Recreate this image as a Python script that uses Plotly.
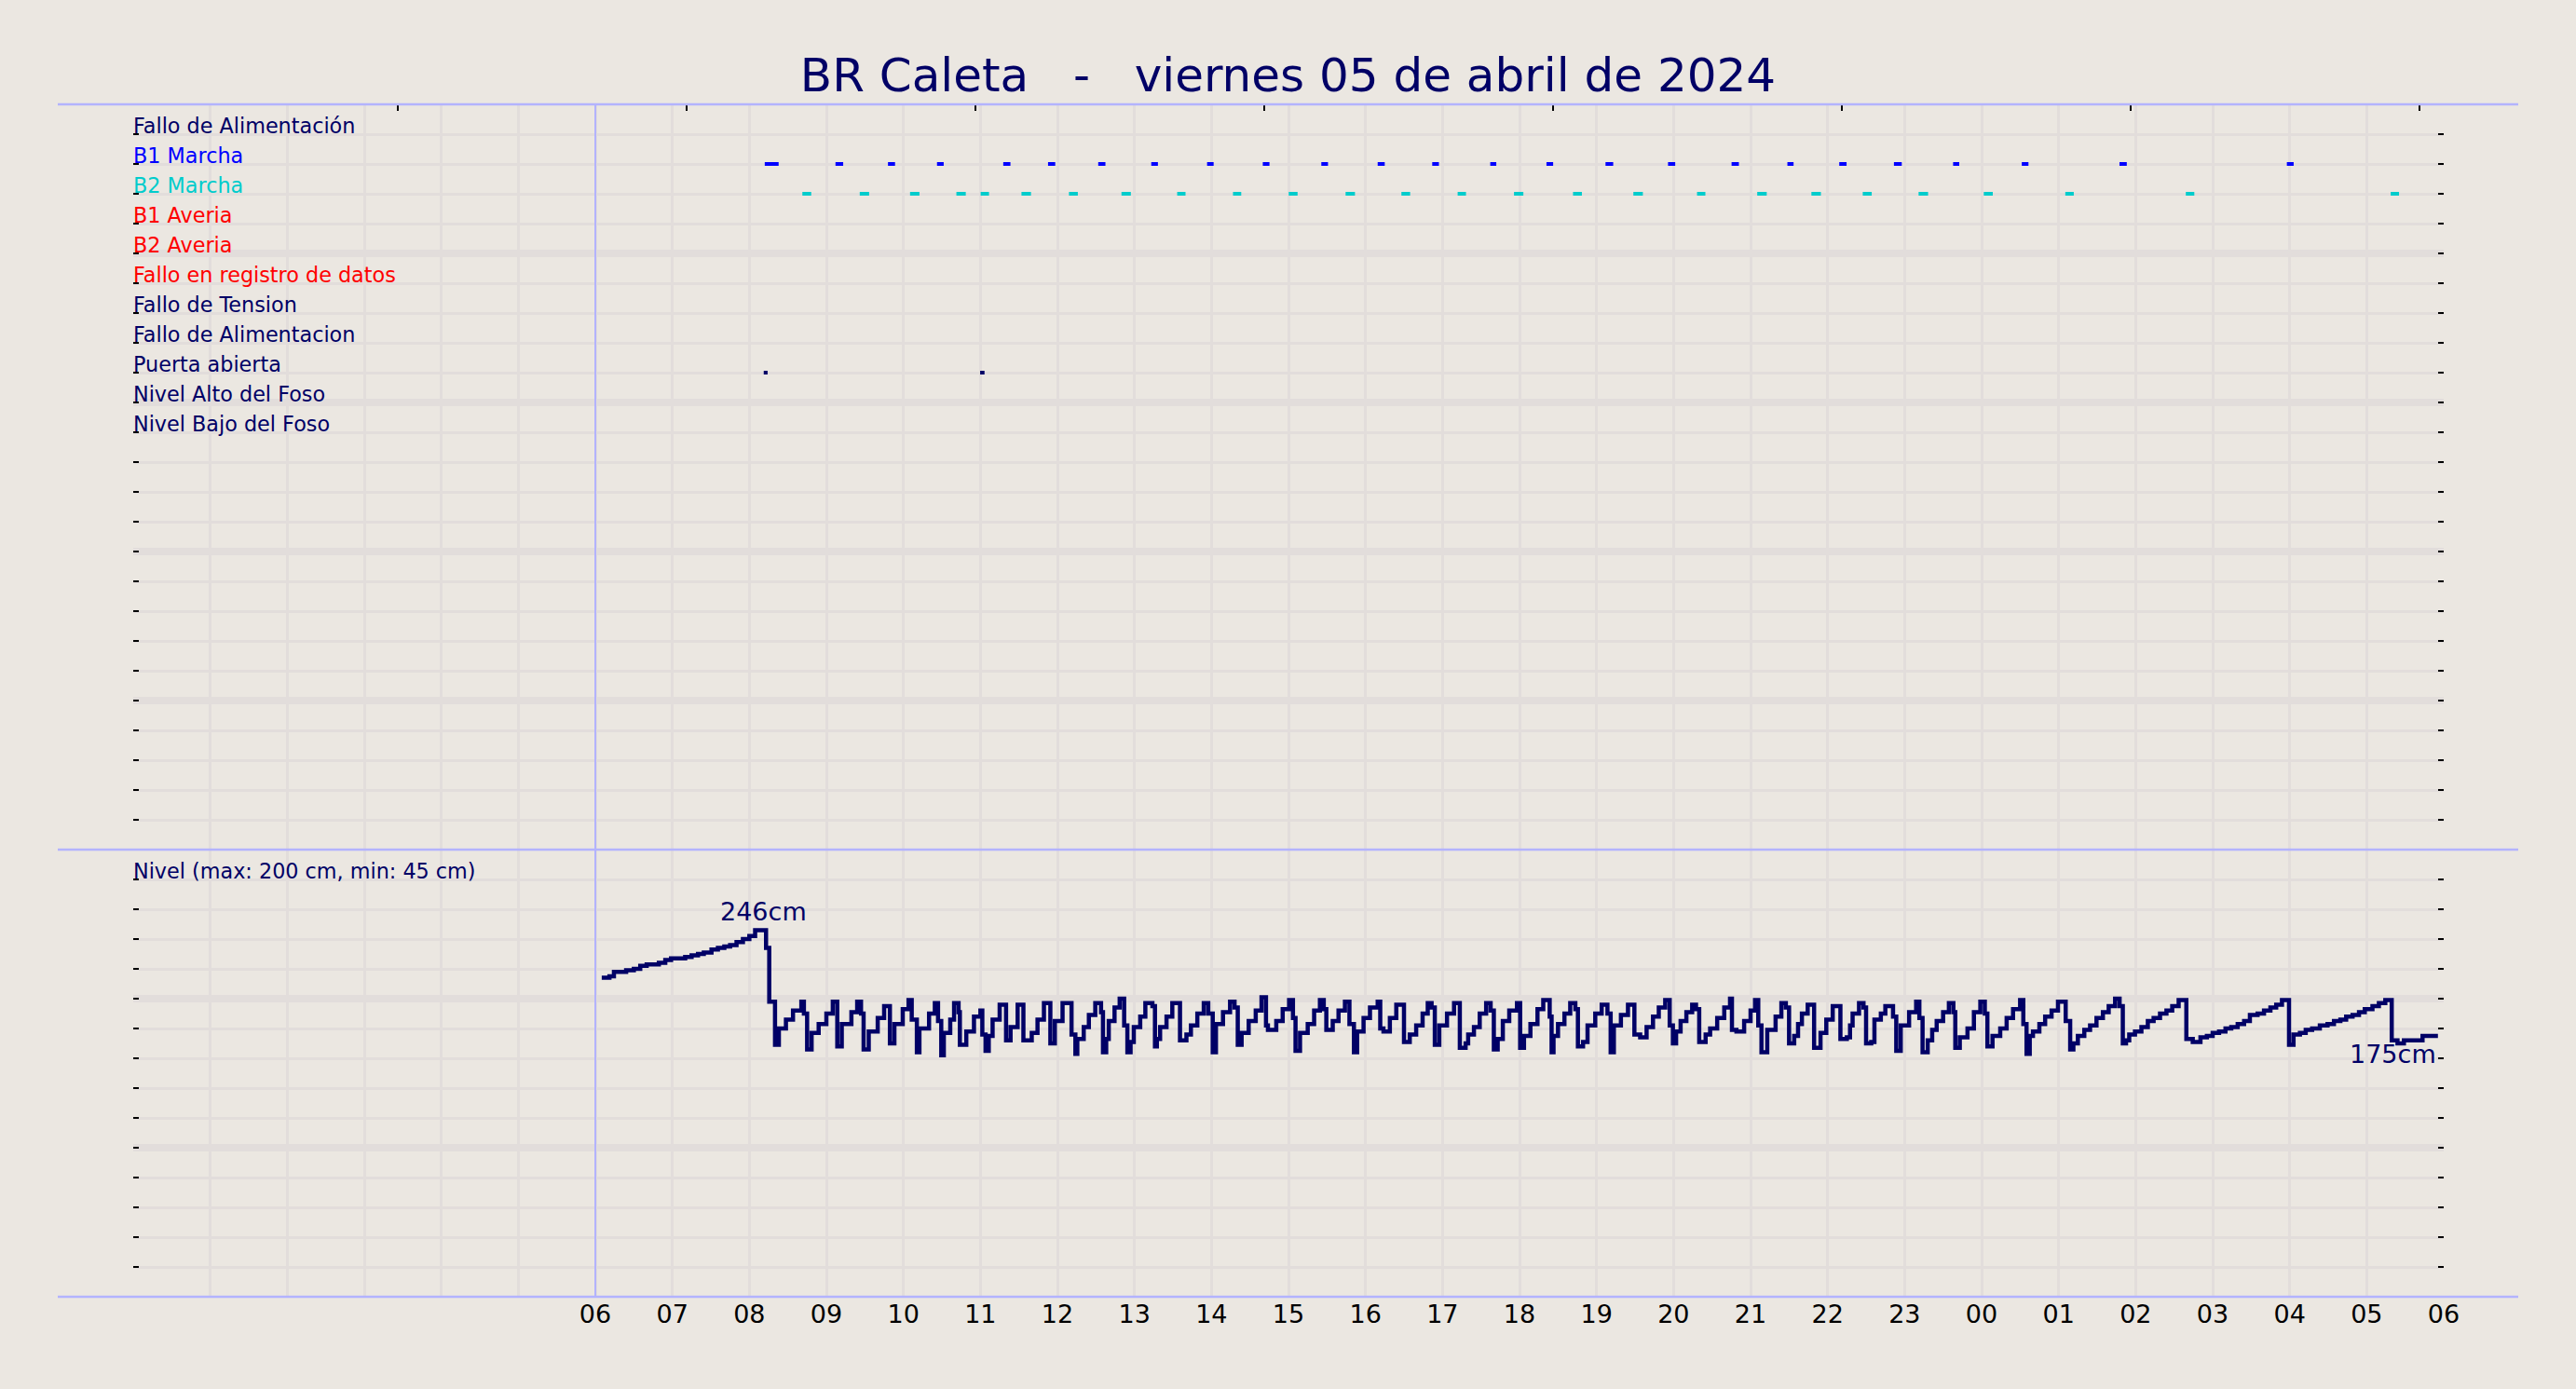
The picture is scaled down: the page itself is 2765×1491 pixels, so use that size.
import pandas as pd
import plotly.graph_objects as go

# ---------------- data ----------------
TITLE = "BR Caleta\u00a0\u00a0\u00a0-\u00a0\u00a0\u00a0viernes 05 de abril de 2024"
DAY_START = "2024-04-05 00:00"
DATA_START = pd.Timestamp("2024-04-05 06:00")
DAY_END = "2024-04-06 06:00"

hour_labels = ["06", "07", "08", "09", "10", "11", "12", "13", "14", "15", "16", "17",
               "18", "19", "20", "21", "22", "23", "00", "01", "02", "03", "04", "05", "06"]

row_labels = ["Fallo de Alimentación", "B1 Marcha", "B2 Marcha", "B1 Averia", "B2 Averia",
              "Fallo en registro de datos", "Fallo de Tension", "Fallo de Alimentacion",
              "Puerta abierta", "Nivel Alto del Foso", "Nivel Bajo del Foso"]
row_colors = ["#000066", "#0000ff", "#00cccc", "#ff0000", "#ff0000", "#ff0000",
              "#000066", "#000066", "#000066", "#000066", "#000066"]

level_note = "Nivel (max: 200 cm, min: 45 cm)"

# level: minutes after 06:00 where the reading changes, and the value (cm)
level_min = [
    5, 11, 14.5, 24, 30, 35, 40, 49.5, 54.5, 59, 70, 75, 80, 84.5, 90.5, 95.5, 100.5, 105, 110, 115, 120,
    124.5, 133, 135.5, 140, 143, 148.5, 154, 160.5, 162.5, 165, 168.5, 174, 180, 185, 188.5, 192, 199.5,
    204, 207, 209, 213, 220, 225, 229.5, 233, 239.5, 244, 246.5, 250.5, 252.5, 260, 264.5, 267, 269.5,
    271.5, 276.5, 279.5, 283, 284, 289, 295, 300, 301.5, 304, 306.5, 309.5, 315, 320, 323.5, 329, 333.5,
    340, 344.5, 349.5, 354.5, 358, 364,
    371, 374, 375.5, 380.5, 384.5, 389.5, 394, 395.5, 398, 400, 404.5, 408.5, 412, 414.5, 417, 419.5,
    424.5, 428.5, 434, 436, 437.5, 440, 445, 449.5, 455.5, 460.5, 464, 469, 474, 477.5, 481, 483.5, 489,
    494.5, 498, 500.5, 503.5, 509, 514.5, 519, 522.5, 524, 530.5, 535.5, 540.5, 543.5, 545.5, 549, 555,
    560, 564.5, 567.5, 569.5, 574.5, 579, 584, 587.5, 591, 593.5, 598.5, 603.5, 609.5, 611.5, 614, 619,
    624, 630, 634.5, 639.5, 644.5, 648.5, 651.5, 654, 657.5, 663.5, 669, 673.5, 678, 680, 684.5, 689,
    694, 697.5, 700, 703, 707, 712, 718, 720.5, 723.5, 728.5, 734, 738.5,
    743.5, 745, 746.5, 750, 755, 759.5, 763.5, 765.5, 769.5, 773, 779, 784, 788.5, 791, 793.5, 799,
    804.5, 809.5, 814, 819, 824, 828.5, 833.5, 837, 839.5, 842, 845.5, 850, 854.5, 857.5, 860, 865,
    868.5, 874, 879.5, 884, 885.5, 889, 895, 900, 903.5, 906, 908.5, 913, 919.5, 924, 927.5, 930, 934,
    937, 940, 944.5, 949.5, 954.5, 959, 964, 970, 975, 977.5, 979.5, 984.5, 988, 990, 994, 996.5,
    1001.5, 1005, 1011, 1013.5, 1017, 1023.5, 1029, 1031.5, 1034, 1038, 1041.5, 1045, 1050, 1054.5,
    1058, 1059.5, 1063, 1069, 1074, 1079, 1082.5, 1084.5, 1088.5, 1094.5, 1099.5, 1104.5, 1110,
    1112.5, 1115, 1117.5, 1120, 1125, 1129.5, 1134.5, 1139.5, 1145.5, 1149, 1151.5, 1155, 1160, 1164.5,
    1169.5, 1174.5, 1179, 1184, 1187.5, 1190, 1192.5, 1195, 1199.5, 1204.5, 1209.5, 1214, 1219, 1224,
    1228.5, 1233.5, 1239.5, 1244.5, 1250.5, 1255.5, 1260, 1265, 1270, 1274.5, 1279.5, 1284.5, 1289,
    1295, 1300, 1305, 1309.5, 1314, 1319.5, 1323, 1328, 1332.5, 1337.5, 1343.5, 1349.5, 1354.5, 1359.5,
    1364, 1369, 1374, 1378.5, 1384.5, 1389.5, 1394.5, 1399.5, 1404, 1409, 1423.5, 1435.5]
level_cm = [
    214, 215, 218, 219, 220, 222, 223, 224, 226, 227, 228, 229, 230, 231, 233, 234, 235, 236, 238, 240, 242,
    246, 234, 198, 169, 180, 186, 192, 198, 190, 166, 177, 183, 190, 198, 168, 183, 191,
    198, 190, 166, 178, 187, 195, 170, 183, 193, 199, 186, 164, 180, 190, 197, 185, 162,
    177, 186, 197, 191, 169, 178, 188, 192, 176, 165, 175, 186, 196, 172, 181, 196, 172,
    177, 186, 197, 170, 185, 197,
    176, 163, 173, 181, 189, 197, 191, 164, 173, 185, 194, 200, 182, 164, 171, 181,
    188, 197, 195, 168, 173, 181, 188, 197, 172, 176, 182, 190, 197, 190, 164, 183, 191,
    198, 194, 169, 177, 185, 192, 201, 182, 179, 185, 193, 199, 187, 165, 177, 183,
    192, 199, 193, 179, 185, 192, 198, 183, 164, 178, 187, 194, 198, 180, 178, 187,
    196, 171, 176, 182, 190, 197, 194, 169, 182, 190, 197, 167, 170, 176, 181, 190,
    197, 192, 166, 173, 185, 192, 197, 167, 175, 183, 193, 199,
    188, 164, 175, 183, 190, 197, 193, 168, 171, 182, 190, 196, 190, 164, 182, 189,
    196, 176, 174, 181, 188, 194, 199, 182, 170, 178, 185, 191, 196, 193, 171, 176,
    180, 187, 194, 200, 179, 178, 185, 192, 199, 182, 164, 179, 188, 197, 194, 170, 175,
    183, 190, 196, 167, 177, 186, 195, 173, 174, 182, 190, 197, 194, 170, 171, 186,
    190, 195, 188, 165, 182, 191, 198, 187, 164, 172, 179, 185, 191, 197,
    191, 167, 174, 180, 191, 198, 190, 168, 175, 180, 187, 193, 199,
    183, 163, 175, 178, 183, 188, 192, 198, 185, 166, 170, 175, 179, 182,
    187, 191, 195, 200, 195, 170, 172, 176, 178, 181, 185, 187, 190, 192,
    195, 199, 173, 171, 174, 175, 177, 178, 180, 181, 183, 185, 189,
    190, 192, 194, 196, 199, 169, 176, 177, 179, 180, 182, 183, 185, 186,
    188, 189, 191, 193, 195, 197, 199, 172, 170, 172, 175, 175]

# pump runs / door events: start and end, minutes after 06:00
b1_on = [132.0, 187.1, 228.0, 266.2, 317.8, 352.7, 391.8, 433.1, 476.6, 520.0, 565.6, 609.5, 652.0,
         697.2, 741.0, 787.0, 835.7, 885.2, 928.7, 969.1, 1011.7, 1057.8, 1111.3, 1187.4, 1317.8]
b1_off = [142.8, 193.1, 233.5, 271.4, 323.4, 358.3, 397.4, 438.3, 481.7, 525.2, 570.8, 615.0, 657.2,
          701.9, 746.2, 793.0, 841.3, 890.9, 933.5, 974.8, 1017.8, 1062.6, 1116.5, 1193.1, 1323.1]
b2_on = [161.3, 206.0, 245.2, 281.3, 300.2, 332.0, 369.0, 409.9, 453.3, 496.8, 540.2, 584.5, 628.0,
         671.8, 715.7, 761.7, 808.7, 858.3, 905.2, 947.4, 987.4, 1030.9, 1081.7, 1145.2, 1239.1, 1398.7]
b2_off = [168.2, 213.3, 252.5, 288.6, 306.7, 339.4, 375.9, 417.2, 459.8, 503.2, 547.1, 591.8, 634.8,
          678.3, 723.0, 768.6, 816.1, 864.8, 912.6, 954.8, 994.4, 1038.3, 1088.7, 1151.8, 1245.7, 1405.2]
door_on = [131.2, 299.8]
door_off = [134.2, 303.2]

top_ticks = [0.1147, 0.2397, 0.3647, 0.4897, 0.6147, 0.7397, 0.8647, 0.9897]

# ---------------- style ----------------
W, H = 2765, 1491
BG = "#ebe7e1"
GRID = "#e2dddb"
NAVY = "#000066"
EDGE = "#b3b3ff"
FONT = "DejaVu Sans"
ML, MR, MT, MB = 143, 142, 112, 99
SPLIT = 480 / 1280.0


def to_time(mins):
    return [DATA_START + pd.Timedelta(minutes=m) for m in mins]


def segments(on, off, row):
    xs, ys = [], []
    for a, b in zip(to_time(on), to_time(off)):
        xs += [a, b, None]
        ys += [row, row, None]
    return xs, ys


hour_ticks = list(pd.date_range(DAY_START, DAY_END, freq="h"))
tick_text = [""] * (len(hour_ticks) - len(hour_labels)) + hour_labels

fig = go.Figure()

level_t = to_time(level_min)
fig.add_trace(go.Scatter(x=level_t, y=level_cm, mode="lines", line=dict(color=NAVY, width=4.5, shape="hv"),
                         xaxis="x2", yaxis="y2", showlegend=False, hoverinfo="x+y"))

for on, off, row, col in [(b1_on, b1_off, 2, "#0000ff"), (b2_on, b2_off, 3, "#00cccc"),
                          (door_on, door_off, 9, NAVY)]:
    xs, ys = segments(on, off, row)
    fig.add_trace(go.Scatter(x=xs, y=ys, mode="lines", line=dict(color=col, width=4),
                             xaxis="x", yaxis="y", showlegend=False, connectgaps=False))

fig.add_trace(go.Scatter(x=[0.5], y=[0], mode="markers", marker=dict(opacity=0),
                         xaxis="x3", yaxis="y", showlegend=False, hoverinfo="skip"))

xcommon = dict(type="date", range=[DAY_START, DAY_END], tickmode="array", tickvals=hour_ticks,
               ticktext=tick_text, showgrid=True, gridcolor=GRID, gridwidth=3, zeroline=False,
               showline=False, ticks="")


def ycommon(rng, major, minor):
    return dict(range=rng, tickmode="linear", tick0=0, dtick=major, showticklabels=False,
                ticks="inside", ticklen=6, tickwidth=2, tickcolor="black", mirror="ticks",
                showgrid=True, gridcolor=GRID, gridwidth=8, zeroline=False, showline=False,
                minor=dict(tick0=0, dtick=minor, ticks="inside", ticklen=6, tickwidth=2,
                           tickcolor="black", showgrid=True, gridcolor=GRID, gridwidth=3))


fig.update_layout(
    width=W, height=H, paper_bgcolor=BG, plot_bgcolor=BG,
    margin=dict(l=ML, r=MR, t=MT, b=MB, pad=0),
    font=dict(family=FONT, color=NAVY),
    title=dict(text=TITLE, x=0.5, xanchor="center", y=1 - 80 / H, yanchor="middle", yref="container",
               font=dict(family=FONT, size=50, color=NAVY)),
    xaxis=dict(xcommon, anchor="y", domain=[0, 1], showticklabels=False),
    xaxis2=dict(xcommon, anchor="y2", domain=[0, 1], matches="x", showticklabels=True,
                tickfont=dict(family=FONT, size=27, color="black")),
    xaxis3=dict(overlaying="x", anchor="y", side="top", range=[0, 1], tickmode="array",
                tickvals=top_ticks, ticks="inside", ticklen=7, tickwidth=1.5, tickcolor="black",
                showticklabels=False, showgrid=False, zeroline=False, showline=False),
    yaxis=dict(ycommon([25, 0], 5, 1), anchor="x", domain=[SPLIT, 1]),
    yaxis2=dict(ycommon([0, 300], 100, 20), anchor="x2", domain=[0, SPLIT]),
    showlegend=False,
)

# frame lines
x_ext0 = -(ML - 62) / (W - ML - MR)
x_ext1 = (2703 - ML) / (W - ML - MR)
for yy in [0, SPLIT, 1]:
    fig.add_shape(type="line", xref="paper", yref="paper", x0=x_ext0, x1=x_ext1, y0=yy, y1=yy,
                  line=dict(color=EDGE, width=2.5), layer="above")
fig.add_shape(type="line", xref="x", yref="paper", x0=DATA_START, x1=DATA_START, y0=0, y1=1,
              line=dict(color=EDGE, width=2), layer="above")

# row labels
for i, (txt, col) in enumerate(zip(row_labels, row_colors)):
    fig.add_annotation(x=0, xref="paper", y=i + 1, yref="y", text=txt, showarrow=False,
                       xanchor="left", yanchor="bottom", xshift=-2, yshift=-6,
                       font=dict(family=FONT, size=22.3, color=col))
fig.add_annotation(x=0, xref="paper", y=280, yref="y2", text=level_note, showarrow=False,
                   xanchor="left", yanchor="bottom", xshift=-2, yshift=-6,
                   font=dict(family=FONT, size=22.3, color=NAVY))

# max / last value labels
imax = max(range(len(level_cm)), key=lambda i: level_cm[i])
tmax = DATA_START + pd.Timedelta(minutes=(level_min[imax] + level_min[imax + 1]) / 2)
fig.add_annotation(x=tmax, y=level_cm[imax], xref="x2", yref="y2", text=f"{level_cm[imax]}cm",
                   showarrow=False, xanchor="center", yanchor="bottom", yshift=2, xshift=3,
                   font=dict(family=FONT, size=27, color=NAVY))
fig.add_annotation(x=level_t[-1], y=level_cm[-1], xref="x2", yref="y2", text=f"{level_cm[-1]}cm",
                   showarrow=False, xanchor="right", yanchor="top", yshift=-2,
                   font=dict(family=FONT, size=27, color=NAVY))

fig.write_html("out.html", config={"displayModeBar": False},
               post_script="document.body.style.margin='0px';"
               "document.body.style.overflow='hidden';")
